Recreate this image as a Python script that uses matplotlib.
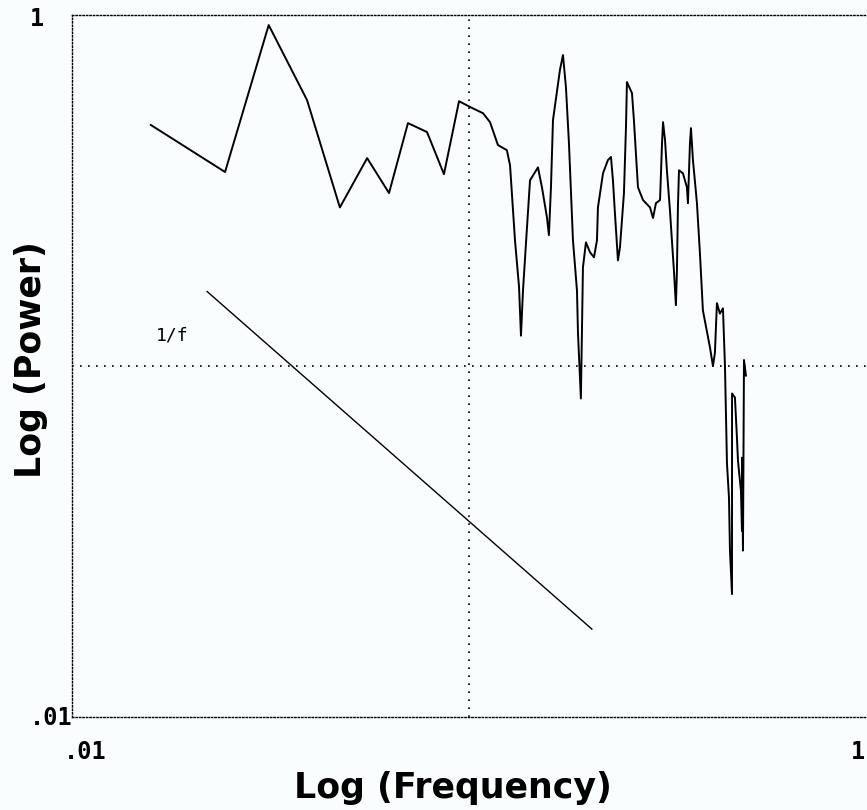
import matplotlib
matplotlib.use("Agg")
from matplotlib import pyplot as plt
from matplotlib import ticker
from matplotlib.transforms import offset_copy

# power spectrum, read as (frequency, power) pairs
freq = [0.0158, 0.0243, 0.0313, 0.0391, 0.0473, 0.0554, 0.0629, 0.0702, 0.0784, 0.0865,
        0.0944, 0.1006, 0.1085, 0.1130, 0.1183, 0.1246, 0.1269, 0.1306, 0.1337, 0.1352,
        0.1368, 0.1400, 0.1425, 0.1492, 0.1527, 0.1572, 0.1590, 0.1609, 0.1628, 0.1695,
        0.1725, 0.1755, 0.1786, 0.1828, 0.1871, 0.1882, 0.1914, 0.1937, 0.1971, 0.2017,
        0.2065, 0.2101, 0.2113, 0.2176, 0.2239, 0.2279, 0.2305, 0.2332, 0.2373, 0.2401,
        0.2457, 0.2486, 0.2500, 0.2574, 0.2603, 0.2665, 0.2744, 0.2858, 0.2908, 0.2958,
        0.3029, 0.3064, 0.3082, 0.3118, 0.3152, 0.3208, 0.3245, 0.3283, 0.3321, 0.3341,
        0.3360, 0.3381, 0.3459, 0.3540, 0.3561, 0.3603, 0.3624, 0.3666, 0.3752, 0.3818,
        0.3884, 0.4046, 0.4117, 0.4164, 0.4213, 0.4287, 0.4363, 0.4414, 0.4466, 0.4518,
        0.4544, 0.4598, 0.4599, 0.4677, 0.4732, 0.4760, 0.4843, 0.4872, 0.4873, 0.4900,
        0.4929, 0.4985]
power = [0.486, 0.357, 0.936, 0.572, 0.283, 0.391, 0.311, 0.492, 0.464, 0.352,
         0.568, 0.547, 0.525, 0.495, 0.426, 0.412, 0.373, 0.228, 0.168, 0.122,
         0.164, 0.248, 0.338, 0.368, 0.323, 0.265, 0.236, 0.323, 0.502, 0.697,
         0.769, 0.623, 0.431, 0.228, 0.164, 0.124, 0.0808, 0.191, 0.225, 0.211,
         0.204, 0.228, 0.283, 0.354, 0.386, 0.394, 0.338, 0.272, 0.200, 0.218,
         0.311, 0.479, 0.644, 0.599, 0.502, 0.323, 0.297, 0.283, 0.264, 0.291,
         0.297, 0.431, 0.495, 0.440, 0.361, 0.278, 0.228, 0.187, 0.149, 0.187,
         0.283, 0.361, 0.354, 0.323, 0.291, 0.431, 0.476, 0.386, 0.291, 0.209,
         0.144, 0.113, 0.100, 0.109, 0.151, 0.141, 0.146, 0.100, 0.0527, 0.0422,
         0.0298, 0.0224, 0.0835, 0.0813, 0.0625, 0.0537, 0.0441, 0.0339, 0.0548, 0.0298,
         0.104, 0.0939]

# reference 1/f slope line
ref_freq = [0.0219, 0.204]
ref_power = [0.163, 0.0178]

bg = "#f9fdfd"
fig = plt.figure(figsize=(8.67, 8.10), dpi=100, facecolor=bg)
ax = fig.add_axes([0.0830, 0.1148, 0.9158, 0.8667], facecolor=bg)

ax.plot(freq, power, color="black", lw=1.4)
ax.plot(ref_freq, ref_power, color="black", lw=1.0)
ax.text(0.0163, 0.122, "1/f", fontsize=13, family="DejaVu Sans Mono", va="center", ha="left")

ax.set_xscale("log")
ax.set_yscale("log")
ax.set_xlim(0.01, 1)
ax.set_ylim(0.01, 1)

ax.xaxis.set_major_locator(ticker.FixedLocator([0.1]))
ax.yaxis.set_major_locator(ticker.FixedLocator([0.1]))
ax.xaxis.set_minor_locator(ticker.NullLocator())
ax.yaxis.set_minor_locator(ticker.NullLocator())
ax.set_xticklabels([])
ax.set_yticklabels([])
ax.tick_params(length=0)
ax.grid(True, color="black", lw=1.2, linestyle=(0, (1, 3.8)))

for side in ["top", "left", "bottom"]:
    ax.spines[side].set_linestyle((0, (1, 1.5)))
    ax.spines[side].set_linewidth(1.0)
ax.spines["right"].set_visible(False)

tick_font = dict(fontsize=17, family="DejaVu Sans Mono", fontweight="bold")
ytr = ax.get_yaxis_transform()
ax.text(-0.0529, 1, "1", transform=offset_copy(ytr, fig=fig, x=0, y=-4, units="dots"),
        ha="left", va="center", **tick_font)
ax.text(-0.0529, 0.01, ".01", transform=offset_copy(ytr, fig=fig, x=0, y=-1, units="dots"),
        ha="left", va="center", **tick_font)
xtr = ax.get_xaxis_transform()
ax.text(0.01, -0.05, ".01", transform=offset_copy(xtr, fig=fig, x=13, y=0, units="dots"),
        ha="center", va="center", **tick_font)
ax.text(1, -0.05, "1", transform=offset_copy(xtr, fig=fig, x=-8, y=0, units="dots"),
        ha="center", va="center", **tick_font)

label_font = dict(fontsize=25, family="DejaVu Sans", fontweight="bold")
fig.text(0.522, 0.0148, "Log (Frequency)", ha="center", va="baseline", **label_font)
fig.text(0.0358, 0.5556, "Log (Power)", rotation=90, ha="center", va="center", **label_font)

fig.savefig("out.png", dpi=100, facecolor=bg)
